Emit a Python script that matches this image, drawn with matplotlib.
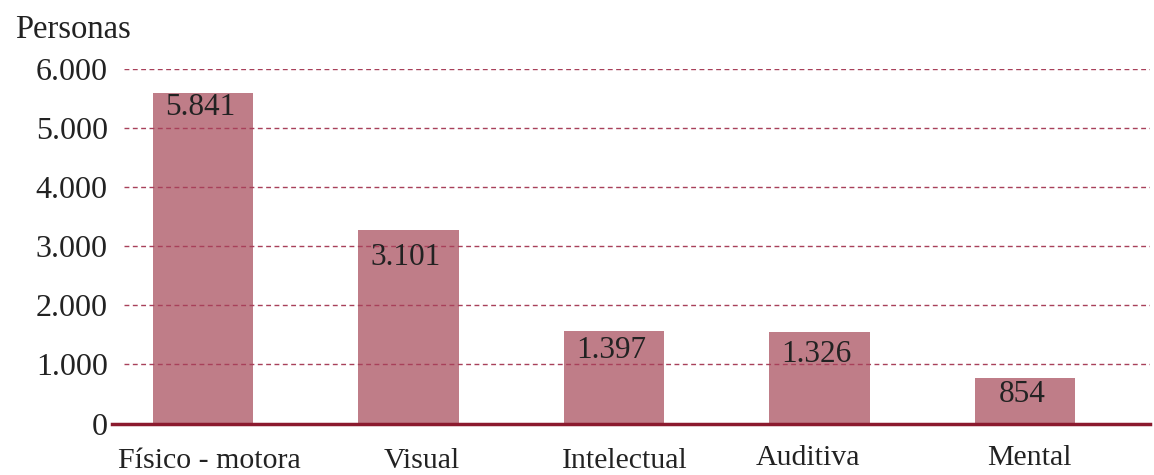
import matplotlib.pyplot as plt
from matplotlib.transforms import ScaledTranslation

# categories and values
categories = ["Físico - motora", "Visual", "Intelectual", "Auditiva", "Mental"]
value_labels = ["5.841", "3.101", "1.397", "1.326", "854"]
# bar heights as drawn in the picture (they do not follow the labels exactly)
bar_heights = [5600, 3270, 1560, 1545, 770]
y_ticks = [0, 1000, 2000, 3000, 4000, 5000, 6000]
y_tick_labels = ["0", "1.000", "2.000", "3.000", "4.000", "5.000", "6.000"]

bar_color = "#bf7d88"
line_color = "#8b1a2e"
grid_color = "#a8405a"

# how far each value label sits below its bar top, and small nudges of the
# category labels (pixels) - the original layout is a bit uneven
label_drop = [3, 15, 7, 11, 5]
xlabel_nudge = [(6, -1), (13, -1), (11, -1), (-12, 2), (4, 2)]

plt.rcParams['font.family'] = ['Liberation Serif', 'DejaVu Serif']

fig = plt.figure(figsize=(11.54, 4.75), dpi=100)
ax = fig.add_axes([0.097, 0.1084, 0.8995, 0.7463])

x = list(range(len(categories)))
bars = ax.bar(x, bar_heights, width=0.49, color=bar_color, zorder=1)

for rect, lab, drop in zip(bars, value_labels, label_drop):
    ax.annotate(lab, (rect.get_x() + rect.get_width() / 2, rect.get_height()),
                xytext=(-2, 2 - drop * 0.72), textcoords="offset points",
                ha="center", va="top", fontsize=22.5, color="#222222", zorder=3)

ax.set_xlim(-0.443, 4.608)
ax.set_ylim(0, 6000)
ax.set_yticks(y_ticks)
ax.set_yticklabels(y_tick_labels, fontsize=23, color="#222222")
ax.set_xticks(x)
ax.set_xticklabels(categories, fontsize=21.5, color="#222222")
ax.tick_params(axis="y", length=0, pad=3)
ax.tick_params(axis="x", length=0, pad=17)

for lbl, (dx, dy) in zip(ax.get_xticklabels(), xlabel_nudge):
    lbl.set_transform(lbl.get_transform() + ScaledTranslation(dx / 100, dy / 100, fig.dpi_scale_trans))

for yv in y_ticks[1:]:
    ax.axhline(yv, xmin=0.012, color=grid_color, linewidth=1.0,
               linestyle=(0, (3.5, 2.5)), zorder=2)

for side in ["top", "right", "left"]:
    ax.spines[side].set_visible(False)
ax.spines["bottom"].set_color(line_color)
ax.spines["bottom"].set_linewidth(2.5)
ax.spines["bottom"].set_zorder(4)

fig.text(0.013, 0.937, "Personas", fontsize=23.5, color="#222222", va="center", ha="left")

fig.savefig("out.png", dpi=100)
